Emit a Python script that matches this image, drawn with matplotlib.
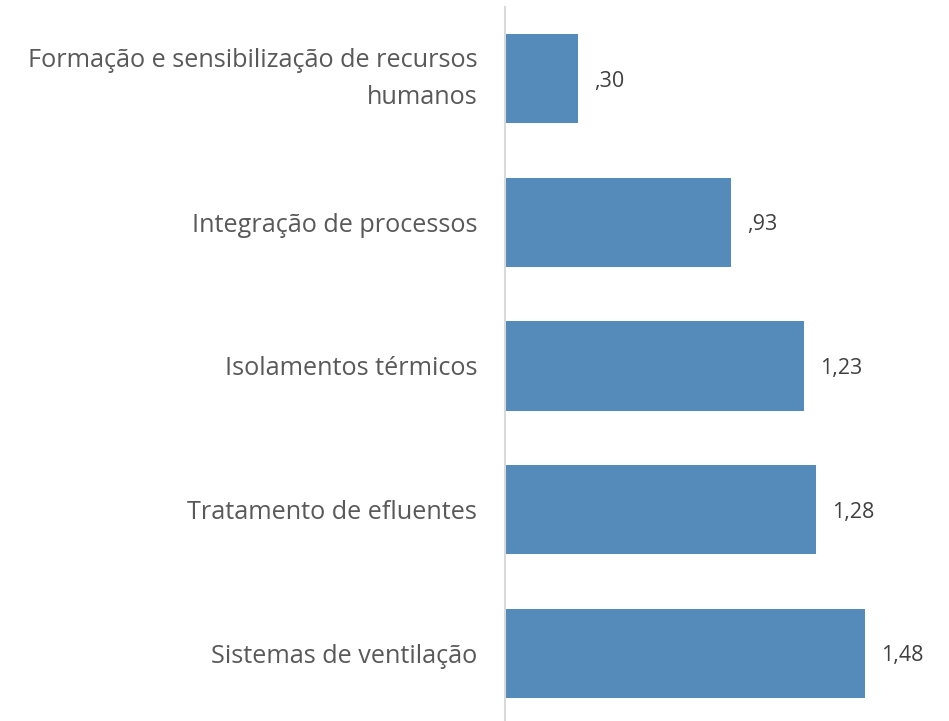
import matplotlib.pyplot as plt

categories = ["Formação e sensibilização de recursos\nhumanos",
              "Integração de processos",
              "Isolamentos térmicos",
              "Tratamento de efluentes",
              "Sistemas de ventilação"]
values = [0.30, 0.93, 1.23, 1.28, 1.48]
value_labels = [",30", ",93", "1,23", "1,28", "1,48"]

plt.rcParams["font.family"] = ["Open Sans", "DejaVu Sans"]

W, H = 949, 721
fig = plt.figure(figsize=(W / 100, H / 100), dpi=100)
ax = fig.add_axes([505 / W, -4 / H, 1 - 505 / W, 718 / H])

pos = list(range(len(categories)))
ax.barh(pos, values, height=0.62, color="#548BBA")
for p, v, lab in zip(pos, values, value_labels):
    ax.annotate(lab, (v, p), xytext=(11.5, 0), textcoords="offset points",
                ha="left", va="center_baseline", fontsize=15.5, color="#404040")

ax.set_ylim(len(categories) - 0.5, -0.5)
ax.set_xlim(0, 444 / 243)
ax.set_yticks(pos)
ax.set_yticklabels(categories, fontsize=18.2, color="#595959", linespacing=1.6)
ax.get_yticklabels()[0].set_va("center")
ax.tick_params(axis="y", length=0, pad=20)
ax.set_xticks([])
for s in ["top", "right", "bottom"]:
    ax.spines[s].set_visible(False)
ax.spines["left"].set_color("#D9D9D9")
ax.spines["left"].set_linewidth(1.5)

fig.savefig("out.png", dpi=100)
